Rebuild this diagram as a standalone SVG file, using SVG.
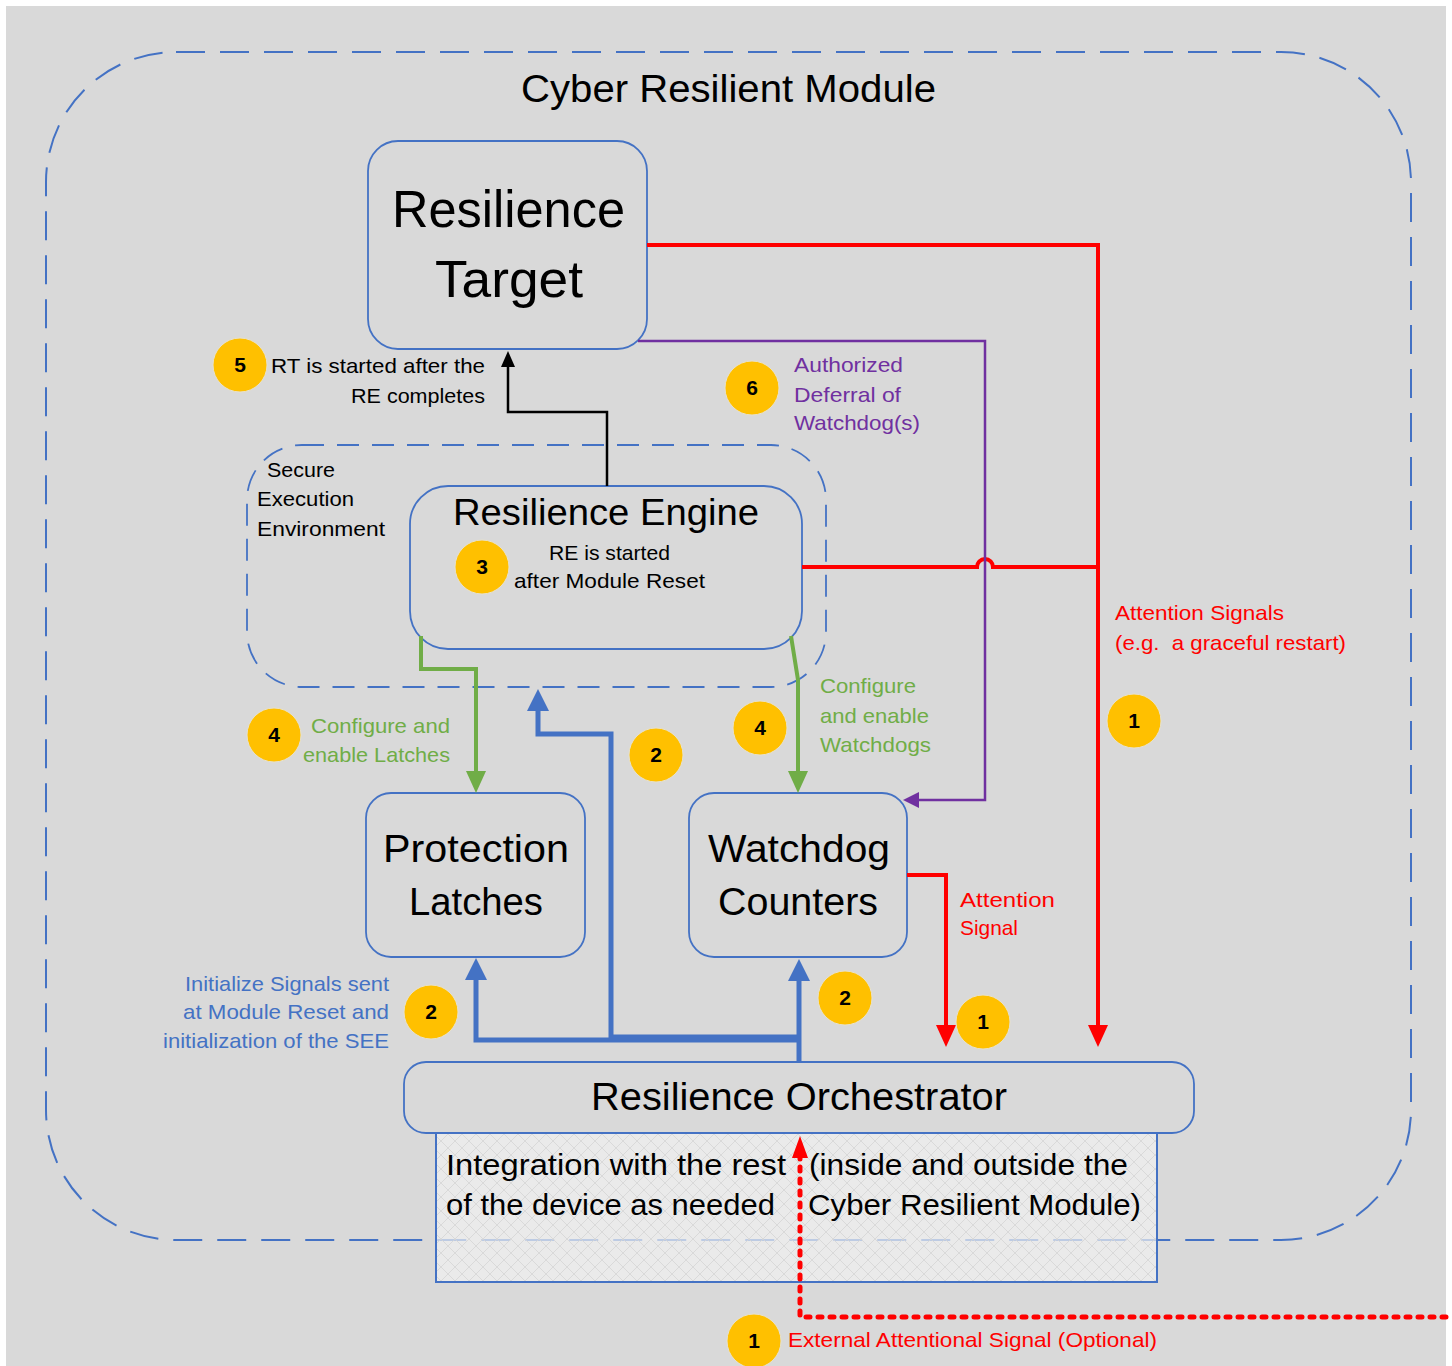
<svg xmlns="http://www.w3.org/2000/svg" width="1452" height="1366" viewBox="0 0 1452 1366">
  <style>
    text { font-family: "Liberation Sans", Arial, sans-serif; fill: #000; }
    .box { fill: none; stroke: #4472c4; stroke-width: 1.8; }
    .frame { fill: none; stroke: #4472c4; stroke-width: 2; stroke-dasharray: 29 15; }
    .see { fill: none; stroke: #4472c4; stroke-width: 1.8; stroke-dasharray: 22 13; }
    .big { font-size: 52px; }
    .mid { font-size: 38px; }
    .int { font-size: 30px; }
    .sm { font-size: 21px; }
    .red { fill: #ff0000; }
    .grn { fill: #70ad47; }
    .blu { fill: #4472c4; }
    .pur { fill: #7030a0; }
    .badge circle { fill: #ffc000; stroke: #e8e2cc; stroke-width: 1; }
    .badge text { font-size: 21px; font-weight: bold; text-anchor: middle; }
    .c-red { fill: none; stroke: #ff0000; stroke-width: 4; }
    .c-blue { fill: none; stroke: #4472c4; stroke-width: 5; }
    .c-green { fill: none; stroke: #70ad47; stroke-width: 4; }
    .c-purple { fill: none; stroke: #7030a0; stroke-width: 2.5; }
    .c-black { fill: none; stroke: #000; stroke-width: 2.5; }
  </style>
  <defs>
    <marker id="ah-red" markerUnits="userSpaceOnUse" markerWidth="24" markerHeight="22" refX="1" refY="10" orient="auto">
      <path d="M0,0 L22,10 L0,20 Z" fill="#ff0000"/>
    </marker>
    <marker id="ah-red-s" markerUnits="userSpaceOnUse" markerWidth="24" markerHeight="18" refX="1" refY="8" orient="auto">
      <path d="M0,0 L22,8 L0,16 Z" fill="#ff0000"/>
    </marker>
    <marker id="ah-blue" markerUnits="userSpaceOnUse" markerWidth="24" markerHeight="24" refX="1" refY="11" orient="auto">
      <path d="M0,0 L22,11 L0,22 Z" fill="#4472c4"/>
    </marker>
    <marker id="ah-green" markerUnits="userSpaceOnUse" markerWidth="24" markerHeight="22" refX="1" refY="10" orient="auto">
      <path d="M0,0 L22,10 L0,20 Z" fill="#70ad47"/>
    </marker>
    <marker id="ah-purple" markerUnits="userSpaceOnUse" markerWidth="18" markerHeight="18" refX="1" refY="8" orient="auto">
      <path d="M0,0 L16,8 L0,16 Z" fill="#7030a0"/>
    </marker>
    <marker id="ah-black" markerUnits="userSpaceOnUse" markerWidth="18" markerHeight="16" refX="1" refY="7" orient="auto">
      <path d="M0,0 L16,7 L0,14 Z" fill="#000"/>
    </marker>
    <pattern id="lattice" patternUnits="userSpaceOnUse" width="14" height="14">
      <rect width="14" height="14" fill="#f2f2f2" fill-opacity="0.7"/>
      <path d="M0,0 L14,14 M14,0 L0,14" stroke="#d6d6d6" stroke-width="0.8" fill="none"/>
    </pattern>
  </defs>

  <!-- page background -->
  <rect x="6" y="6" width="1440" height="1360" fill="#d9d9d9"/>

  <!-- module boundary -->
  <g id="cyber-resilient-module">
    <rect class="frame" x="46" y="52" width="1365" height="1188" rx="130" ry="130"/>
    <text x="521" y="102" font-size="39" textLength="415" lengthAdjust="spacingAndGlyphs">Cyber Resilient Module</text>
  </g>

  <g id="resilience-target">
    <rect class="box" x="368" y="141" width="279" height="208" rx="30" ry="30"/>
    <text class="big" x="392" y="227" textLength="233" lengthAdjust="spacingAndGlyphs">Resilience</text>
    <text class="big" x="435" y="297" textLength="148" lengthAdjust="spacingAndGlyphs">Target</text>
  </g>

  <g id="secure-execution-environment">
    <rect class="see" x="247" y="445" width="579" height="242" rx="55" ry="55"/>
    <text class="sm" x="267" y="477" textLength="68" lengthAdjust="spacingAndGlyphs">Secure</text>
    <text class="sm" x="257" y="506" textLength="97" lengthAdjust="spacingAndGlyphs">Execution</text>
    <text class="sm" x="257" y="536" textLength="128" lengthAdjust="spacingAndGlyphs">Environment</text>
  </g>

  <g id="resilience-engine">
    <rect class="box" x="410" y="486" width="392" height="163" rx="38" ry="38"/>
    <text x="453" y="525" font-size="37" textLength="306" lengthAdjust="spacingAndGlyphs">Resilience Engine</text>
    <text class="sm" x="549" y="560" textLength="121" lengthAdjust="spacingAndGlyphs">RE is started</text>
    <text class="sm" x="514" y="588" textLength="191" lengthAdjust="spacingAndGlyphs">after Module Reset</text>
  </g>

  <g id="protection-latches">
    <rect class="box" x="366" y="793" width="219" height="164" rx="25" ry="25"/>
    <text class="mid" x="383" y="862" textLength="186" lengthAdjust="spacingAndGlyphs">Protection</text>
    <text class="mid" x="409" y="915" textLength="134" lengthAdjust="spacingAndGlyphs">Latches</text>
  </g>

  <g id="watchdog-counters">
    <rect class="box" x="689" y="793" width="218" height="164" rx="25" ry="25"/>
    <text class="mid" x="708" y="862" textLength="182" lengthAdjust="spacingAndGlyphs">Watchdog</text>
    <text class="mid" x="718" y="915" textLength="160" lengthAdjust="spacingAndGlyphs">Counters</text>
  </g>

  <g id="device-integration">
    <rect x="436" y="1133" width="721" height="149" fill="url(#lattice)" stroke="#4472c4" stroke-width="2"/>
    <text class="int" x="446" y="1175" textLength="340" lengthAdjust="spacingAndGlyphs">Integration with the rest</text>
    <text class="int" x="446" y="1215" textLength="329" lengthAdjust="spacingAndGlyphs">of the device as needed</text>
    <text class="int" x="809" y="1175" textLength="319" lengthAdjust="spacingAndGlyphs">(inside and outside the</text>
    <text class="int" x="808" y="1215" textLength="333" lengthAdjust="spacingAndGlyphs">Cyber Resilient Module)</text>
  </g>

  <g id="resilience-orchestrator">
    <rect x="404" y="1062" width="790" height="71" rx="22" ry="22" fill="#d9d9d9" stroke="#4472c4" stroke-width="1.8"/>
    <text class="mid" x="591" y="1110" textLength="416" lengthAdjust="spacingAndGlyphs">Resilience Orchestrator</text>
  </g>

  <!-- connectors -->
  <g id="connectors">
    <!-- attention signals -->
    <path class="c-red" d="M647,245 H1098 V1026" marker-end="url(#ah-red)"/>
    <path class="c-red" d="M802,567 H977 A8,8 0 0 1 993,567 H1098"/>
    <path class="c-red" d="M907,875 H946 V1026" marker-end="url(#ah-red)"/>
    <path d="M1446,1317 H800 V1157" fill="none" stroke="#ff0000" stroke-width="5" stroke-linecap="round" stroke-dasharray="4 8" marker-end="url(#ah-red-s)"/>
    <!-- authorized deferral -->
    <path class="c-purple" d="M638,341 H985 V800 H918" marker-end="url(#ah-purple)"/>
    <!-- RE to RT -->
    <path class="c-black" d="M607,486 V412 H508 V366" marker-end="url(#ah-black)"/>
    <!-- configure and enable -->
    <path class="c-green" d="M421,636 V669 H476 V772" marker-end="url(#ah-green)"/>
    <path class="c-green" d="M791,636 L798,680 V772" marker-end="url(#ah-green)"/>
    <!-- initialize signals -->
    <path class="c-blue" d="M799,1062 V980" marker-end="url(#ah-blue)"/>
    <path class="c-blue" d="M799,1040 H476 V979" marker-end="url(#ah-blue)"/>
    <path class="c-blue" d="M799,1037 H611 V734 H538 V710" marker-end="url(#ah-blue)"/>
  </g>

  <!-- step badges -->
  <g id="badge-5" class="badge"><circle cx="240" cy="365" r="27"/><text x="240" y="372">5</text></g>
  <g id="badge-6" class="badge"><circle cx="752" cy="388" r="27"/><text x="752" y="395">6</text></g>
  <g id="badge-3" class="badge"><circle cx="482" cy="567" r="27"/><text x="482" y="574">3</text></g>
  <g id="badge-4a" class="badge"><circle cx="274" cy="735" r="27"/><text x="274" y="742">4</text></g>
  <g id="badge-4b" class="badge"><circle cx="760" cy="728" r="27"/><text x="760" y="735">4</text></g>
  <g id="badge-2a" class="badge"><circle cx="656" cy="755" r="27"/><text x="656" y="762">2</text></g>
  <g id="badge-1a" class="badge"><circle cx="1134" cy="721" r="27"/><text x="1134" y="728">1</text></g>
  <g id="badge-2b" class="badge"><circle cx="431" cy="1012" r="27"/><text x="431" y="1019">2</text></g>
  <g id="badge-2c" class="badge"><circle cx="845" cy="998" r="27"/><text x="845" y="1005">2</text></g>
  <g id="badge-1b" class="badge"><circle cx="983" cy="1022" r="27"/><text x="983" y="1029">1</text></g>
  <g id="badge-1c" class="badge"><circle cx="754" cy="1341" r="27"/><text x="754" y="1348">1</text></g>

  <!-- connector labels -->
  <g id="labels">
    <text class="sm" x="271" y="373" textLength="214" lengthAdjust="spacingAndGlyphs">RT is started after the</text>
    <text class="sm" x="351" y="403" textLength="134" lengthAdjust="spacingAndGlyphs">RE completes</text>

    <text class="sm pur" x="794" y="372" textLength="109" lengthAdjust="spacingAndGlyphs">Authorized</text>
    <text class="sm pur" x="794" y="402" textLength="107" lengthAdjust="spacingAndGlyphs">Deferral of</text>
    <text class="sm pur" x="794" y="430" textLength="126" lengthAdjust="spacingAndGlyphs">Watchdog(s)</text>

    <text class="sm red" x="1115" y="620" textLength="169" lengthAdjust="spacingAndGlyphs">Attention Signals</text>
    <text class="sm red" x="1115" y="650" textLength="231" lengthAdjust="spacingAndGlyphs" style="white-space:pre">(e.g.  a graceful restart)</text>

    <text class="sm grn" x="311" y="733" textLength="139" lengthAdjust="spacingAndGlyphs">Configure and</text>
    <text class="sm grn" x="303" y="762" textLength="147" lengthAdjust="spacingAndGlyphs">enable Latches</text>
    <text class="sm grn" x="820" y="693" textLength="96" lengthAdjust="spacingAndGlyphs">Configure</text>
    <text class="sm grn" x="820" y="723" textLength="109" lengthAdjust="spacingAndGlyphs">and enable</text>
    <text class="sm grn" x="820" y="752" textLength="111" lengthAdjust="spacingAndGlyphs">Watchdogs</text>

    <text class="sm red" x="960" y="907" textLength="95" lengthAdjust="spacingAndGlyphs">Attention</text>
    <text class="sm red" x="960" y="935" textLength="58" lengthAdjust="spacingAndGlyphs">Signal</text>

    <text class="sm blu" x="185" y="991" textLength="204" lengthAdjust="spacingAndGlyphs">Initialize Signals sent</text>
    <text class="sm blu" x="183" y="1019" textLength="206" lengthAdjust="spacingAndGlyphs">at Module Reset and</text>
    <text class="sm blu" x="163" y="1048" textLength="226" lengthAdjust="spacingAndGlyphs">initialization of the SEE</text>

    <text class="sm red" x="788" y="1347" textLength="369" lengthAdjust="spacingAndGlyphs">External Attentional Signal (Optional)</text>
  </g>
</svg>
